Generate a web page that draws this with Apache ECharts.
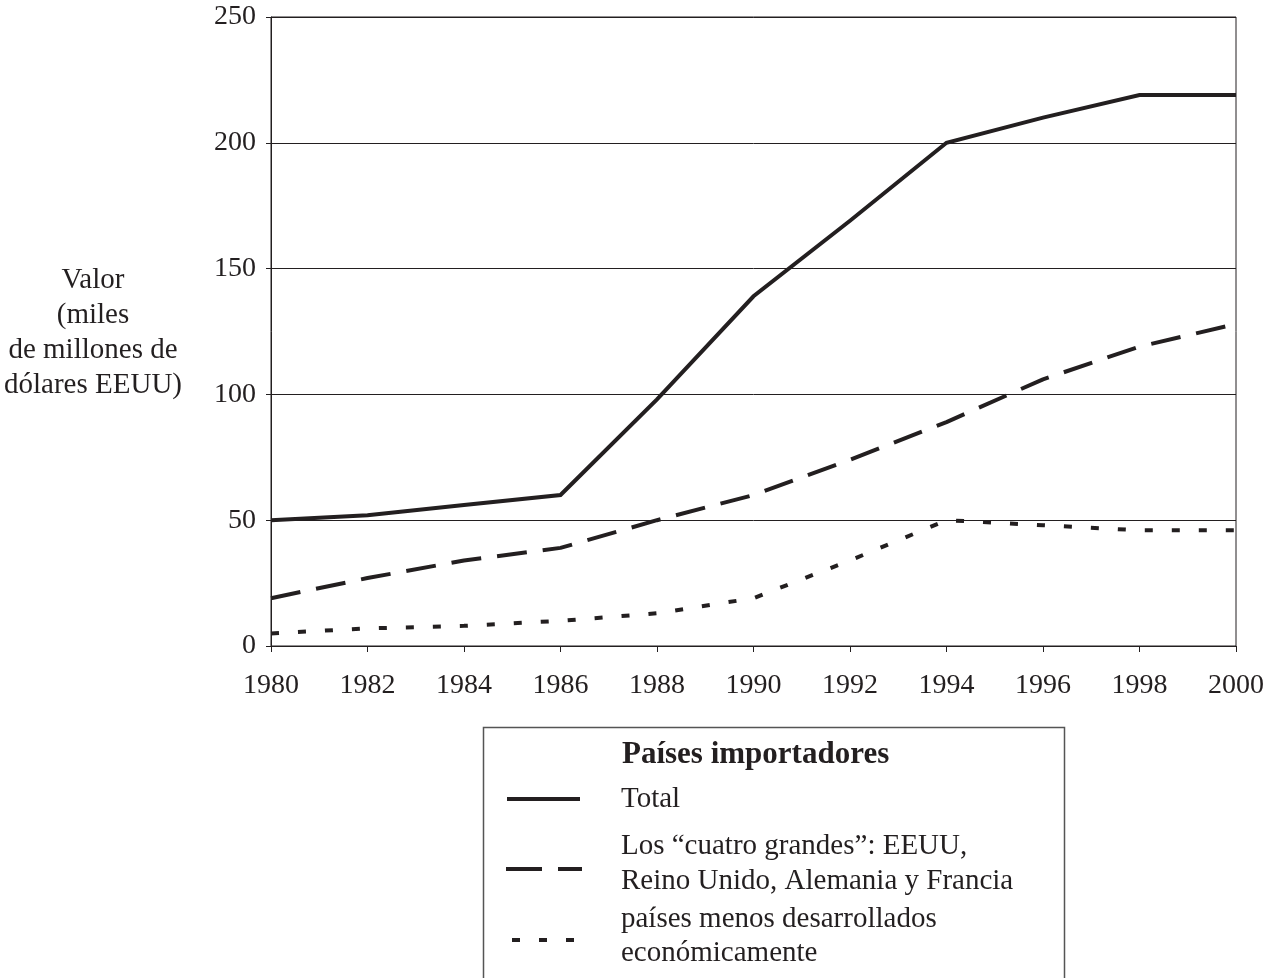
<!DOCTYPE html>
<html>
<head>
<meta charset="utf-8">
<script src="https://cdn.jsdelivr.net/npm/echarts@6/dist/echarts.min.js"></script>
<style>
html,body{margin:0;padding:0;background:#fff;}
#c{width:1280px;height:978px;}
</style>
</head>
<body>
<div id="c"></div>
<script>
var years = [1980, 1982, 1984, 1986, 1988, 1990, 1992, 1994, 1996, 1998, 2000];
var total = [50, 52, 56, 60, 98, 139, 169, 200, 210, 219, 219];
var cuatroGrandes = [19, 27, 34, 39, 50, 60, 74, 89, 106, 119, 128];
var menosDesarrollados = [5, 7, 8, 10, 13, 19, 34, 50, 48, 46, 46];
var seriesNames = ['Total', 'Los \u201ccuatro grandes\u201d: EEUU,\nReino Unido, Alemania y Francia', 'pa\u00edses menos desarrollados\necon\u00f3micamente'];
var legendTitle = 'Pa\u00edses importadores';
var yAxisTitle = 'Valor\n(miles\nde millones de\nd\u00f3lares EEUU)';

var FONT = '"Liberation Serif", "Times New Roman", serif';
var INK = '#231f20';

function pairs(vals){ return years.map(function(y,i){ return [y, vals[i]]; }); }

var chart = echarts.init(document.getElementById('c'), null, {renderer:'canvas'});
chart.setOption({
  backgroundColor:'#ffffff',
  animation:false,
  grid:{left:271, right:44, top:17, bottom:332, show:true, borderColor:INK, borderWidth:1, backgroundColor:'transparent'},
  xAxis:{
    type:'value', min:1980, max:2000, interval:2,
    axisLine:{show:true, lineStyle:{color:INK, width:1}},
    axisTick:{show:true, length:6, inside:false, lineStyle:{color:INK}},
    axisLabel:{color:INK, fontFamily:FONT, fontSize:28, margin:26, formatter:function(v){return String(v);}},
    splitLine:{show:false}
  },
  yAxis:{
    type:'value', min:0, max:250, interval:50,
    axisLine:{show:true, lineStyle:{color:INK, width:1}},
    axisTick:{show:true, length:5, inside:false, lineStyle:{color:INK}},
    axisLabel:{color:INK, fontFamily:FONT, fontSize:28, margin:15},
    splitLine:{show:true, lineStyle:{color:INK, width:1}}
  },
  series:[
    {name:seriesNames[0], type:'line', data:pairs(total), symbol:'none',
     lineStyle:{color:INK, width:4, type:'solid', join:'miter'}},
    {name:seriesNames[1], type:'line', data:pairs(cuatroGrandes), symbol:'none',
     lineStyle:{color:INK, width:4, type:[30,16]}},
    {name:seriesNames[2], type:'line', data:pairs(menosDesarrollados), symbol:'none',
     lineStyle:{color:INK, width:4, type:[8,19]}}
  ],
  graphic:[
    {type:'text', x:93, y:333, style:{text:yAxisTitle, fill:INK, font:'29px '+FONT, align:'center', verticalAlign:'middle', lineHeight:35}},
    {type:'rect', shape:{x:483.5, y:727.5, width:581, height:270}, style:{fill:'#fff', stroke:'#555', lineWidth:1.5}},
    {type:'text', x:622, y:755, style:{text:legendTitle, fill:INK, font:'bold 31px '+FONT, align:'left', verticalAlign:'middle'}},
    {type:'line', shape:{x1:507, y1:799, x2:580, y2:799}, style:{stroke:INK, lineWidth:4}},
    {type:'text', x:621, y:799, style:{text:seriesNames[0], fill:INK, font:'29px '+FONT, align:'left', verticalAlign:'middle'}},
    {type:'line', shape:{x1:506, y1:869, x2:582, y2:869}, style:{stroke:INK, lineWidth:4, lineDash:[36,16]}},
    {type:'text', x:621, y:864, style:{text:seriesNames[1], fill:INK, font:'29px '+FONT, align:'left', verticalAlign:'middle', lineHeight:35}},
    {type:'line', shape:{x1:512, y1:940, x2:576, y2:940}, style:{stroke:INK, lineWidth:4, lineDash:[8,19]}},
    {type:'text', x:621, y:936, style:{text:seriesNames[2], fill:INK, font:'29px '+FONT, align:'left', verticalAlign:'middle', lineHeight:34}}
  ]
});
</script>
</body>
</html>
